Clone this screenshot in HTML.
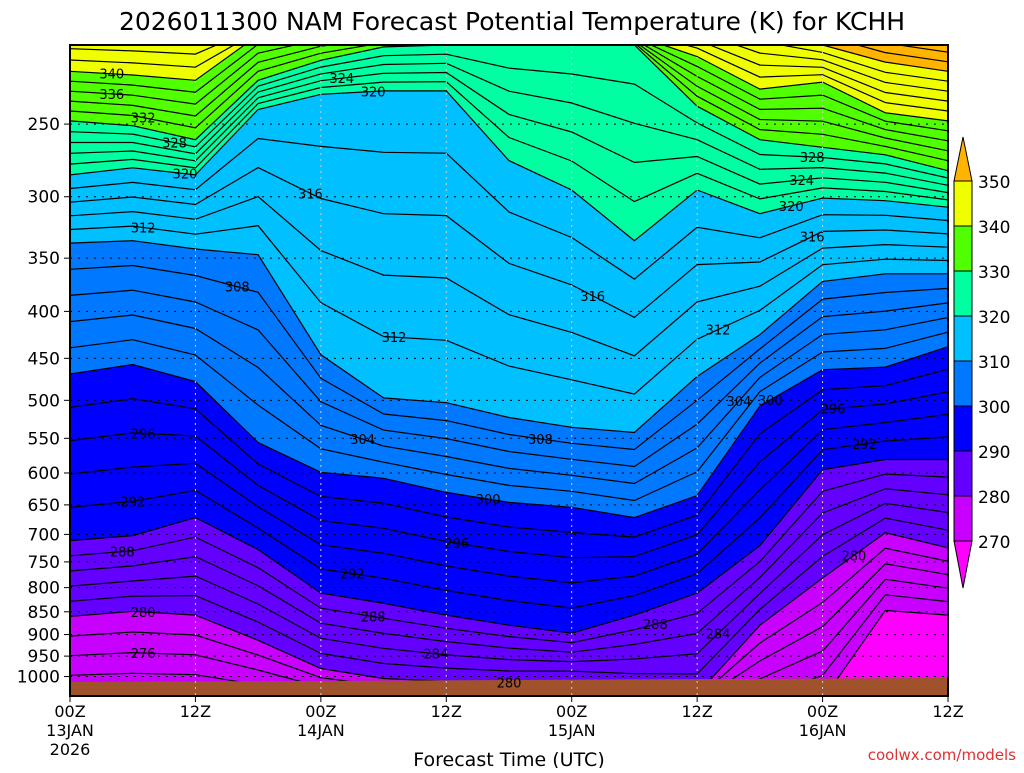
<!DOCTYPE html>
<html><head><meta charset="utf-8"><style>
body{margin:0;background:#fff;width:1024px;height:768px;overflow:hidden;font-family:"Liberation Sans","DejaVu Sans",sans-serif}
svg text{font-family:"DejaVu Sans","Liberation Sans",sans-serif}
</style></head><body>
<svg id="chart" width="1024" height="768" viewBox="0 0 1024 768" xmlns="http://www.w3.org/2000/svg">
<defs><clipPath id="plotclip"><rect x="70" y="45" width="878" height="651"/></clipPath></defs>
<text x="512" y="30" text-anchor="middle" font-size="25" fill="#000">2026011300 NAM Forecast Potential Temperature (K) for KCHH</text>
<g id="plot" clip-path="url(#plotclip)"></g>
<g id="overlay"></g>
<text x="509" y="766" text-anchor="middle" font-size="19" fill="#000">Forecast Time (UTC)</text>
<text x="1016" y="760" text-anchor="end" font-size="15" fill="#e03030">coolwx.com/models</text>
</svg>
<script>
// Forecast hours (6-hourly columns)
const hours = [0,6,12,18,24,30,36,42,48,54,60,66,72,78,84];
// Isentrope levels (K) used to define the field
const levels = [270,280,290,300,310,320,330,340,350];
// Pressure (hPa) of each isentrope per forecast hour
const p270 = [1100,1100,1100,1100,1100,1100,1100,1100,1100,1100,1100,1100,1060,847,857];
const p280 = [860,849,857,913,980,1005,1012,1015,1010,1030,1045,879,781,697,724];
const p290 = [711,702,671,727,811,832,857,879,897,857,811,720,595,580,580];
const p300 = [468,457,477,556,599,608,630,646,654,671,635,507,463,460,437];
const p310 = [337,335,342,347,446,497,503,522,535,542,471,424,371,364,364];
const p320 = [284,279,284,241,232,230,230,274,295,335,295,313,301,303,308];
const p330 = [248,251,260,224,213,206,205,205,205,205,239,260,265,270,281];
const p340 = [219,221,224,200,195,195,195,195,195,200,211,229,225,243,248];
const p350 = [190,190,190,190,190,190,190,190,190,190,190,197,205,214,219];
const isen = [p270,p280,p290,p300,p310,p320,p330,p340,p350];
// Colour bands
const bandColors = ['#ff00ff','#c800ff','#6400ff','#0000ff','#0078ff','#00c0ff','#00ffa0','#50ff00','#f0ff00','#ffb400'];
const pTicks = [250,300,350,400,450,500,550,600,650,700,750,800,850,900,950,1000];
const timeTicks = [0,12,24,36,48,60,72,84];
const timeLab1 = ['00Z','12Z','00Z','12Z','00Z','12Z','00Z','12Z'];
const timeLab2 = ['13JAN','','14JAN','','15JAN','','16JAN',''];
const cbLabels = [350,340,330,320,310,300,290,280,270];
// contour labels: [theta, hour]
const lineLabels = [[340,4],[336,4],[332,7],[328,10],[320,11],[312,7],[308,16],[324,26],[320,29],[316,23],[316,50],[312,62],[312,31],[308,45],[304,28],[304,64],[300,40],[300,67],[296,7],[296,37],[296,73],[292,6],[292,27],[292,76],[288,5],[288,29],[288,56],[284,35],[284,62],[280,7],[280,42],[280,75],[276,7],[328,71],[324,70],[320,69],[316,71]];

const NS='http://www.w3.org/2000/svg';
const X0=70,X1=948,Y0=45,Y1=696,PT=205,PB=1050;
function xS(h){return X0+h/84*(X1-X0);}
function yS(p){return Y0+Math.log(p/PT)/Math.log(PB/PT)*(Y1-Y0);}
function pAt(theta,i){
  if(theta<=levels[0]){return isen[0][i];}
  for(let k=0;k<levels.length-1;k++){
    if(theta<=levels[k+1]){
      const f=(theta-levels[k])/(levels[k+1]-levels[k]);
      return Math.exp(Math.log(isen[k][i])*(1-f)+Math.log(isen[k+1][i])*f);
    }
  }
  const n=levels.length-1;
  return isen[n][i]*Math.exp(-(theta-levels[n])*0.012);
}
function mk(tag,attrs,parent){const e=document.createElementNS(NS,tag);for(const a in attrs)e.setAttribute(a,attrs[a]);parent.appendChild(e);return e;}
const plot=document.getElementById('plot');
const ov=document.getElementById('overlay');
// base fill
const base=mk('rect',{x:X0,y:Y0,width:X1-X0,height:Y1-Y0,fill:bandColors[0]},plot);


levels.forEach((lv,k)=>{
  let d='M'+X0+','+(Y0-5);
  hours.forEach((h,i)=>{d+=' L'+xS(h).toFixed(1)+','+yS(isen[k][i]).toFixed(1);});
  d+=' L'+X1+','+(Y0-5)+' Z';
  const pth=mk('path',{d:d,fill:bandColors[k+1]},plot);
  
  
});
// contour lines every 2K
for(let th=270;th<=360;th+=2){
  let d='';
  hours.forEach((h,i)=>{d+=(i?' L':'M')+xS(h).toFixed(1)+','+yS(pAt(th,i)).toFixed(1);});
  const ln=mk('path',{d:d,fill:'none',stroke:'#000','stroke-width':1.2},plot);
  
  
}
// ground
const gr=mk('path',{d:'M'+X0+',682 L'+X1+',678 L'+X1+','+Y1+' L'+X0+','+Y1+' Z',fill:'#a0522d'},plot);


// grid
pTicks.forEach(p=>{
  const y=yS(p);
  const g=mk('line',{x1:X0,x2:X1,y1:y,y2:y,stroke:'#000','stroke-width':1,'stroke-dasharray':'2,6'},plot);
  
  
  const t=mk('text',{x:60,y:y+6,'text-anchor':'end','font-size':17,fill:'#000'},ov);
  t.textContent=p;
  
  
  mk('line',{x1:64,x2:70,y1:y,y2:y,stroke:'#000'},ov);
});
timeTicks.forEach((h,i)=>{
  const x=xS(h);
  if(i>0&&i<timeTicks.length-1){
    const g=mk('line',{x1:x,x2:x,y1:Y0,y2:Y1,stroke:'#d0d0d0','stroke-width':1,'stroke-dasharray':'2,4'},plot);
    
    
  }
  mk('line',{x1:x,x2:x,y1:Y1,y2:Y1+6,stroke:'#000'},ov);
  const t=mk('text',{x:x,y:717,'text-anchor':'middle','font-size':16,fill:'#000'},ov);
  t.textContent=timeLab1[i];
  
  
  if(timeLab2[i]){
    const t2=mk('text',{x:x,y:736,'text-anchor':'middle','font-size':16,fill:'#000'},ov);
    t2.textContent=timeLab2[i];
    
    
  }
});
const yr=mk('text',{x:70,y:755,'text-anchor':'middle','font-size':16,fill:'#000'},ov);
yr.textContent='2026';


// contour labels
lineLabels.forEach(([th,h])=>{
  const i=Math.min(13,Math.floor(h/6)),f=(h-hours[i])/6;
  const p=Math.exp(Math.log(pAt(th,i))*(1-f)+Math.log(pAt(th,i+1))*f);
  const t=mk('text',{x:xS(h),y:yS(p)+5,'text-anchor':'middle','font-size':13,fill:'#000'},plot);
  t.textContent=th;
  
  
});
// frame
const fr=mk('rect',{x:X0,y:Y0,width:X1-X0,height:Y1-Y0,fill:'none',stroke:'#000','stroke-width':2},ov);


// colorbar
const cbX=954,cbW=18,cbTop=181,cbStep=45;
const cbCols=['#f0ff00','#50ff00','#00ffa0','#00c0ff','#0078ff','#0000ff','#6400ff','#c800ff'];
cbCols.forEach((c,j)=>{
  const r=mk('rect',{x:cbX,y:cbTop+j*cbStep,width:cbW,height:cbStep,fill:c,stroke:'#000','stroke-width':1},ov);
  
  
});
const tt=mk('polygon',{points:cbX+','+cbTop+' '+(cbX+cbW/2)+',137 '+(cbX+cbW)+','+cbTop,fill:'#ffb400',stroke:'#000'},ov);


const bY=cbTop+8*cbStep;
const bt=mk('polygon',{points:cbX+','+bY+' '+(cbX+cbW/2)+','+(bY+47)+' '+(cbX+cbW)+','+bY,fill:'#ff00ff',stroke:'#000'},ov);


cbLabels.forEach((v,j)=>{
  const t=mk('text',{x:978,y:cbTop+j*cbStep+7,'font-size':17,fill:'#000'},ov);
  t.textContent=v;
  
  
});
</script>
</body></html>
